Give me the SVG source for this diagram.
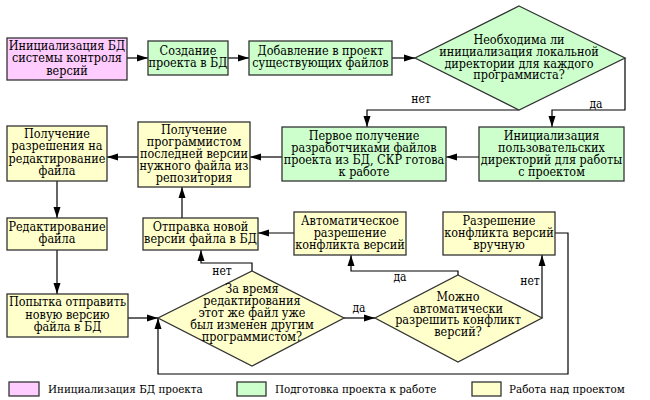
<svg xmlns="http://www.w3.org/2000/svg" width="650" height="400" viewBox="0 0 650 400">
<style>
  .pink{fill:#FFCCFF;stroke:#333;stroke-width:1.3}
  .green{fill:#CCFFCC;stroke:#333;stroke-width:1.3}
  .yellow{fill:#FFFFCC;stroke:#333;stroke-width:1.3}
  text{font-family:"DejaVu Serif Condensed","DejaVu Serif","Liberation Serif",serif;fill:#000}
  .t{font-size:12.5px;text-anchor:middle}
  .lbl{font-size:12px;text-anchor:middle}
  .leg{font-size:11.5px}
  .c{fill:none;stroke:#000;stroke-width:1.2}
</style>
<defs>
  <marker id="ah" markerUnits="userSpaceOnUse" markerWidth="11" markerHeight="8" refX="11" refY="4" orient="auto">
    <path d="M0,0.5 L11,4 L0,7.5 Z" fill="#000"/>
  </marker>
</defs>
<rect width="650" height="400" fill="#fff"/>

<g id="connectors">
  <path class="c" marker-end="url(#ah)" d="M127,58 H148"/>
  <path class="c" marker-end="url(#ah)" d="M228,58 H249"/>
  <path class="c" marker-end="url(#ah)" d="M392,58 H415"/>
  <path class="c" marker-end="url(#ah)" d="M519,110 H367 V127"/>
  <path class="c" marker-end="url(#ah)" d="M625,58 V110 H552 V127"/>
  <path class="c" marker-end="url(#ah)" d="M479,157 H446"/>
  <path class="c" marker-end="url(#ah)" d="M282,157 H250"/>
  <path class="c" marker-end="url(#ah)" d="M138,157 H107"/>
  <path class="c" marker-end="url(#ah)" d="M57,181 V218"/>
  <path class="c" marker-end="url(#ah)" d="M57,250 V294"/>
  <path class="c" marker-end="url(#ah)" d="M128,318 H158"/>
  <path class="c" marker-end="url(#ah)" d="M252,271 V263 H201 V250"/>
  <path class="c" marker-end="url(#ah)" d="M182,218 V187"/>
  <path class="c" marker-end="url(#ah)" d="M294,233 H258"/>
  <path class="c" marker-end="url(#ah)" d="M344,318 H375"/>
  <path class="c" marker-end="url(#ah)" d="M458,275 V271 H351 V255"/>
  <path class="c" marker-end="url(#ah)" d="M542,318 V255"/>
  <path class="c" marker-end="url(#ah)" d="M555,233 H568 V374 H158 V318"/>
  <text class="lbl" x="421" y="103">нет</text>
  <text class="lbl" x="596" y="108">да</text>
  <text class="lbl" x="222" y="275">нет</text>
  <text class="lbl" x="359" y="312">да</text>
  <text class="lbl" x="400" y="281">да</text>
  <text class="lbl" x="530" y="285">нет</text>
</g>

<g id="n1">
  <rect class="pink" x="7" y="38" width="120" height="42"/>
  <text class="t" x="67" y="49.5">Инициализация БД</text>
  <text class="t" x="67" y="62">системы контроля</text>
  <text class="t" x="67" y="74.5">версий</text>
</g>
<g id="n2">
  <rect class="green" x="148" y="41" width="80" height="34"/>
  <text class="t" x="188" y="55">Создание</text>
  <text class="t" x="188" y="67">проекта в БД</text>
</g>
<g id="n3">
  <rect class="green" x="249" y="41" width="143" height="34"/>
  <text class="t" x="320.5" y="55">Добавление в проект</text>
  <text class="t" x="320.5" y="67">существующих файлов</text>
</g>
<g id="d1">
  <polygon class="green" points="519,6 625,58 519,110 415,58"/>
  <text class="t" x="519" y="44">Необходима ли</text>
  <text class="t" x="519" y="56">инициализация локальной</text>
  <text class="t" x="519" y="67.5">директории для каждого</text>
  <text class="t" x="519" y="79">программиста?</text>
</g>
<g id="n5">
  <rect class="green" x="282" y="127" width="164" height="54"/>
  <text class="t" x="364" y="139.5">Первое получение</text>
  <text class="t" x="364" y="151.5">разработчиками файлов</text>
  <text class="t" x="364" y="164">проекта из БД, СКР готова</text>
  <text class="t" x="364" y="176">к работе</text>
</g>
<g id="n6">
  <rect class="green" x="479" y="127" width="145" height="54"/>
  <text class="t" x="551.5" y="139.5">Инициализация</text>
  <text class="t" x="551.5" y="151.5">пользовательских</text>
  <text class="t" x="551.5" y="164">директорий для работы</text>
  <text class="t" x="551.5" y="176">с проектом</text>
</g>
<g id="n7">
  <rect class="yellow" x="138" y="122" width="112" height="65"/>
  <text class="t" x="194" y="133.5">Получение</text>
  <text class="t" x="194" y="146">программистом</text>
  <text class="t" x="194" y="158">последней версии</text>
  <text class="t" x="194" y="170">нужного файла из</text>
  <text class="t" x="194" y="182">репозитория</text>
</g>
<g id="n8">
  <rect class="yellow" x="7" y="126" width="100" height="55"/>
  <text class="t" x="57" y="138">Получение</text>
  <text class="t" x="57" y="150">разрешения на</text>
  <text class="t" x="57" y="162.5">редактирование</text>
  <text class="t" x="57" y="174.5">файла</text>
</g>
<g id="n9">
  <rect class="yellow" x="7" y="218" width="100" height="32"/>
  <text class="t" x="57" y="231">Редактирование</text>
  <text class="t" x="57" y="243">файла</text>
</g>
<g id="n10">
  <rect class="yellow" x="7" y="294" width="121" height="43"/>
  <text class="t" x="67.5" y="306">Попытка отправить</text>
  <text class="t" x="67.5" y="318.5">новую версию</text>
  <text class="t" x="67.5" y="331">файла в БД</text>
</g>
<g id="d2">
  <polygon class="yellow" points="252,271 344,318 252,366 158,318"/>
  <text class="t" x="252" y="293">За время</text>
  <text class="t" x="252" y="305">редактирования</text>
  <text class="t" x="252" y="317">этот же файл уже</text>
  <text class="t" x="252" y="329">был изменен другим</text>
  <text class="t" x="252" y="341">программистом?</text>
</g>
<g id="n12">
  <rect class="yellow" x="143" y="218" width="115" height="32"/>
  <text class="t" x="200.5" y="231">Отправка новой</text>
  <text class="t" x="200.5" y="243">версии файла в БД</text>
</g>
<g id="n13">
  <rect class="yellow" x="294" y="212" width="112" height="43"/>
  <text class="t" x="350" y="225">Автоматическое</text>
  <text class="t" x="350" y="237">разрешение</text>
  <text class="t" x="350" y="249">конфликта версий</text>
</g>
<g id="n14">
  <rect class="yellow" x="443" y="212" width="112" height="43"/>
  <text class="t" x="499" y="225">Разрешение</text>
  <text class="t" x="499" y="237">конфликта версий</text>
  <text class="t" x="499" y="249">вручную</text>
</g>
<g id="d3">
  <polygon class="yellow" points="458,275 542,318 458,362 375,318"/>
  <text class="t" x="458" y="301">Можно</text>
  <text class="t" x="458" y="312.5">автоматически</text>
  <text class="t" x="458" y="324">разрешить конфликт</text>
  <text class="t" x="458" y="336">версий?</text>
</g>

<g id="legend">
  <rect class="pink" x="9" y="382" width="30" height="14"/>
  <text class="leg" x="48" y="393">Инициализация БД проекта</text>
  <rect class="green" x="237" y="382" width="29" height="14"/>
  <text class="leg" x="275" y="393">Подготовка проекта к работе</text>
  <rect class="yellow" x="472" y="382" width="29" height="14"/>
  <text class="leg" x="509" y="393">Работа над проектом</text>
</g>
</svg>
